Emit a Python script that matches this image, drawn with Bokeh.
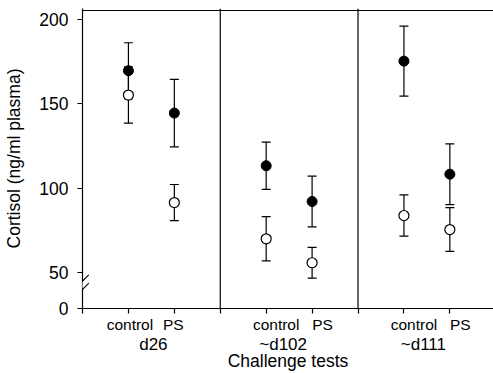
from bokeh.plotting import figure
from bokeh.models import (Range1d, FixedTicker, Span, Whisker, TeeHead,
                          ColumnDataSource, Arrow, PolyAnnotation, LinearAxis)
from bokeh.embed import file_html
from bokeh.resources import INLINE

# ---- data ----
groups = ["d26", "~d102", "~d111"]
treatments = ["control", "PS"]
filled_mean = [169.6, 144.5, 113.3, 92.1, 175.3, 108.3]
filled_err = [16.6, 20.0, 14.0, 15.0, 20.7, 18.0]
open_mean = [155.2, 91.5, 70.0, 55.8, 83.8, 75.5]
open_err = [16.7, 10.7, 13.1, 9.1, 12.2, 13.0]
y_ticks = [50, 100, 150, 200]
y_tick_labels = ["0", "50", "100", "150", "200"]

FONT = "Liberation Sans"
W, H = 493, 373
FRAME_LEFT, FRAME_TOP, FRAME_BOTTOM = 82, 8, 308
PXX = 45.92           # px per x unit
PXY = 1.6874          # px per y unit
Y0 = 28.7             # axis value shown as "0" below the break
YTOP = 205.3          # value of the top border line
YEND = Y0 + (FRAME_BOTTOM - FRAME_TOP) / PXY
XEND = (W - FRAME_LEFT) / PXX

# label pixel nudges (per group): control, PS, group name
treat_nudge = [[1.5, -1], [10, 10.5], [10, 10.5]]
group_nudge = [2, -6, -3.5]

def y_at(py):
    return Y0 + (FRAME_BOTTOM - py) / PXY

xs = []
for gi in range(len(groups)):
    for ti in range(len(treatments)):
        xs.append(3 * gi + 1 + ti)

p = figure(width=W, height=H, x_range=Range1d(0, XEND),
           y_range=Range1d(Y0, YEND), output_backend="svg",
           toolbar_location=None, min_border_left=FRAME_LEFT, min_border_right=0,
           min_border_top=FRAME_TOP, min_border_bottom=H - FRAME_BOTTOM)
p.outline_line_color = None
p.xgrid.visible = False
p.ygrid.visible = False
p.background_fill_color = "white"
p.border_fill_color = "white"

# y axis
yax = p.yaxis[0]
yax.ticker = FixedTicker(ticks=[Y0] + y_ticks)
yax.major_label_overrides = {t: l for t, l in zip([Y0] + y_ticks, y_tick_labels)}
yax.major_tick_out = 5
yax.major_tick_in = 0
yax.minor_tick_line_color = None
yax.axis_line_width = 1.2
yax.major_tick_line_width = 1.2
yax.major_label_text_font = FONT
yax.major_label_text_font_size = "17.5px"
yax.major_label_text_color = "black"
yax.major_label_standoff = 9
yax.axis_label = "Cortisol (ng/ml plasma)"
yax.axis_label_text_font = FONT
yax.axis_label_text_font_size = "17.5px"
yax.axis_label_text_font_style = "normal"
yax.axis_label_text_color = "black"
yax.axis_label_standoff = 12

# x axis: tick marks at integer positions, treatment labels near them
treat_pos, treat_lab = [], []
for gi in range(len(groups)):
    for ti, t in enumerate(treatments):
        treat_pos.append(3 * gi + 1 + ti + treat_nudge[gi][ti] / PXX)
        treat_lab.append(t)
xax = p.xaxis[0]
xax.ticker = FixedTicker(ticks=treat_pos, minor_ticks=list(range(0, 9)))
xax.major_label_overrides = {t: l for t, l in zip(treat_pos, treat_lab)}
xax.major_tick_out = 0
xax.major_tick_in = 0
xax.minor_tick_out = 5
xax.minor_tick_in = 0
xax.minor_tick_line_color = "black"
xax.minor_tick_line_width = 1.2
xax.axis_line_width = 1.2
xax.major_label_text_font = FONT
xax.major_label_text_font_size = "15.5px"
xax.major_label_text_color = "black"
xax.major_label_standoff = 2

# second row: group labels and the axis title
group_pos = [3 * gi + 1.5 + group_nudge[gi] / PXX for gi in range(len(groups))]
gax = LinearAxis(ticker=FixedTicker(ticks=group_pos),
                 major_label_overrides={t: g for t, g in zip(group_pos, groups)},
                 axis_line_color=None, major_tick_line_color=None,
                 minor_tick_line_color=None, major_tick_out=0, major_tick_in=0,
                 major_label_standoff=-1,
                 major_label_text_font=FONT, major_label_text_font_size="17px",
                 major_label_text_color="black",
                 axis_label="Challenge tests", axis_label_text_font=FONT,
                 axis_label_text_font_size="17.5px", axis_label_text_font_style="normal",
                 axis_label_text_color="black", axis_label_standoff=-6)
p.add_layout(gax, "below")

# top border line and group dividers
p.segment(x0=[0], y0=[YTOP], x1=[XEND], y1=[YTOP], line_color="black", line_width=1.2)
for gi in range(1, len(groups)):
    p.add_layout(Span(location=3 * gi, dimension="height", line_color="black", line_width=1.2))

# error bars
for m, e in ((filled_mean, filled_err), (open_mean, open_err)):
    src = ColumnDataSource(dict(x=xs, upper=[a + b for a, b in zip(m, e)],
                                lower=[a - b for a, b in zip(m, e)]))
    p.add_layout(Whisker(source=src, base="x", upper="upper", lower="lower",
                         dimension="height", line_color="black", line_width=1.2,
                         upper_head=TeeHead(size=9, line_width=1.2, line_color="black"),
                         lower_head=TeeHead(size=9, line_width=1.2, line_color="black"),
                         level="underlay"))

p.scatter(xs, filled_mean, marker="circle", size=10, fill_color="black",
          line_color="black", line_width=1)
p.scatter(xs, open_mean, marker="circle", size=10, fill_color="white",
          line_color="black", line_width=1.2)

# axis break
bx0, bx1 = -6 / PXX, 6.3 / PXX
p.add_layout(PolyAnnotation(xs=[bx0, bx1, bx1, bx0],
                            ys=[y_at(287.2), y_at(275.5), y_at(281.8), y_at(293.5)],
                            fill_color="white", fill_alpha=1, line_color=None,
                            level="overlay"))
for top, bot in ((274.3, 286.7), (282.7, 295.0)):
    p.add_layout(Arrow(x_start=bx0, y_start=y_at(bot), x_end=bx1, y_end=y_at(top),
                       end=None, line_color="black", line_width=1.1, level="overlay"))

open("out.html", "w").write(file_html(p, INLINE))
